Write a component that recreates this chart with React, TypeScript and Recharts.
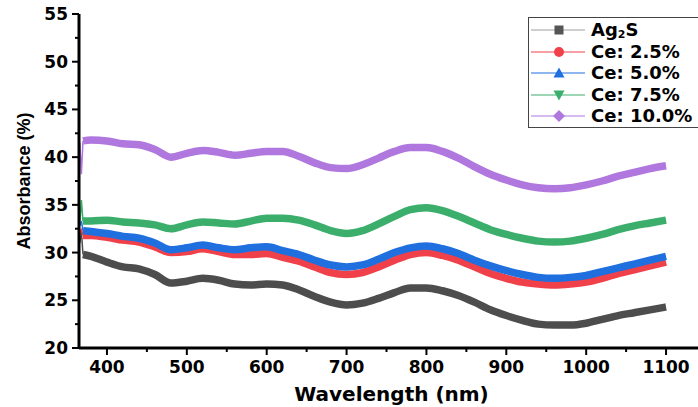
import { Line, LineChart, XAxis, YAxis } from "recharts";

// wavelengths (nm) of the sampled points
const wavelengths = [
  366, 368, 370, 380, 400, 420, 440, 460, 480, 500, 520, 540, 560, 580, 600, 620, 640, 660, 680, 700,
  720, 740, 760, 780, 800, 820, 840, 860, 880, 900, 920, 940, 960, 980, 1000, 1020, 1040, 1060, 1080, 1100,
];

// noisy start (366-370 nm), drawn thin
const ag2sSpike = [31.0, 32.2, 29.8];
const ce25Spike = [31.8, 32.5, 31.8];
const ce50Spike = [32.8, 33.3, 32.3];
const ce75Spike = [33.0, 35.5, 33.3];
const ce100Spike = [41.5, 38.2, 41.7];

// main curves from 370 nm on
const ag2s = [
  29.8, 29.6, 29.0, 28.5, 28.3, 27.7, 26.8, 27.0, 27.3, 27.1, 26.7, 26.6, 26.7, 26.6, 26.1, 25.4, 24.8, 24.5,
  24.7, 25.2, 25.8, 26.3, 26.3, 26.0, 25.5, 24.8, 24.0, 23.4, 22.9, 22.5, 22.4, 22.4, 22.6, 23.0, 23.4, 23.7, 24.0, 24.3,
];
const ce25 = [
  31.8, 31.8, 31.6, 31.3, 31.1, 30.6, 30.0, 30.1, 30.4, 30.1, 29.8, 29.8, 29.9, 29.5, 29.1, 28.5, 27.9, 27.7,
  27.9, 28.5, 29.2, 29.8, 30.0, 29.7, 29.2, 28.5, 27.8, 27.3, 26.9, 26.7, 26.6, 26.7, 26.9, 27.3, 27.8, 28.2, 28.6, 29.0,
];
const ce50 = [
  32.3, 32.2, 32.0, 31.7, 31.5, 31.0, 30.3, 30.5, 30.8, 30.5, 30.3, 30.5, 30.6, 30.2, 29.8, 29.2, 28.7, 28.5,
  28.7, 29.3, 30.0, 30.5, 30.7, 30.4, 29.9, 29.2, 28.6, 28.1, 27.7, 27.4, 27.3, 27.4, 27.6, 28.0, 28.4, 28.8, 29.2, 29.6,
];
const ce75 = [
  33.3, 33.3, 33.4, 33.2, 33.1, 32.9, 32.5, 32.9, 33.2, 33.1, 33.0, 33.3, 33.6, 33.6, 33.4, 32.9, 32.3, 32.0,
  32.3, 33.0, 33.8, 34.5, 34.7, 34.4, 33.8, 33.1, 32.4, 31.9, 31.5, 31.2, 31.1, 31.2, 31.5, 31.9, 32.4, 32.8, 33.1, 33.4,
];
const ce100 = [
  41.7, 41.8, 41.7, 41.4, 41.3, 40.8, 40.0, 40.4, 40.7, 40.5, 40.2, 40.4, 40.6, 40.6, 40.1, 39.4, 38.9, 38.8,
  39.2, 39.9, 40.6, 41.0, 41.0, 40.6, 39.9, 39.0, 38.2, 37.6, 37.1, 36.8, 36.7, 36.8, 37.1, 37.5, 38.0, 38.4, 38.8, 39.1,
];

const xMajorTicks = [400, 500, 600, 700, 800, 900, 1000, 1100];
const xMinorTicks = [450, 550, 650, 750, 850, 950, 1050];
const yMajorTicks = [20, 25, 30, 35, 40, 45, 50, 55];
const yMinorTicks = [22.5, 27.5, 32.5, 37.5, 42.5, 47.5, 52.5];

const series = [
  { key: "ag2s", name: "Ag2S", values: ag2s, spike: ag2sSpike, color: "#4d4d4d", legendLine: "#a0a0a0", marker: "square" },
  { key: "ce25", name: "Ce: 2.5%", values: ce25, spike: ce25Spike, color: "#f0404a", legendLine: "#f0404a", marker: "circle" },
  { key: "ce50", name: "Ce: 5.0%", values: ce50, spike: ce50Spike, color: "#1f6fdf", legendLine: "#1f6fdf", marker: "up" },
  { key: "ce75", name: "Ce: 7.5%", values: ce75, spike: ce75Spike, color: "#3aae6a", legendLine: "#3aae6a", marker: "down" },
  { key: "ce100", name: "Ce: 10.0%", values: ce100, spike: ce100Spike, color: "#b078de", legendLine: "#b078de", marker: "diamond" },
];

const nSpike = ag2sSpike.length;
const data = wavelengths.map((wl, i) => {
  const row: Record<string, number | null> = { wl };
  series.forEach((s) => {
    row[s.key + "Spike"] = i < nSpike ? s.spike[i] : null;
    row[s.key] = i >= nSpike - 1 ? s.values[i - (nSpike - 1)] : null;
  });
  return row;
});

const TICK_SIZE = 6;
const TICK_MARGIN = 4;
const tickFont = { fontFamily: "'DejaVu Sans', sans-serif", fontWeight: 700, fontSize: 17, fill: "#000" };

function XTick(props: any) {
  const { x, y, payload } = props;
  const major = xMajorTicks.includes(payload.value);
  const y0 = y - TICK_SIZE - TICK_MARGIN;
  return (
    <g>
      <line x1={x} x2={x} y1={y0} y2={y0 + (major ? 7 : 4)} stroke="#000" strokeWidth={2} />
      {major ? (
        <text x={x} y={y0 + 25} textAnchor="middle" {...tickFont}>
          {payload.value}
        </text>
      ) : null}
    </g>
  );
}

function YTick(props: any) {
  const { x, y, payload } = props;
  const major = yMajorTicks.includes(payload.value);
  const x0 = x + TICK_SIZE + TICK_MARGIN;
  return (
    <g>
      <line x1={x0} x2={x0 - (major ? 7 : 4)} y1={y} y2={y} stroke="#000" strokeWidth={2} />
      {major ? (
        <text x={x0 - 11} y={y + 6} textAnchor="end" {...tickFont}>
          {payload.value}
        </text>
      ) : null}
    </g>
  );
}

function Marker({ kind, color }: { kind: string; color: string }) {
  const c = 28;
  const m = 11;
  if (kind === "square") return <rect x={c - 4.5} y={m - 4.5} width={9} height={9} fill={color} />;
  if (kind === "circle") return <circle cx={c} cy={m} r={5} fill={color} />;
  if (kind === "up") return <polygon points={`${c - 5.5},${m + 4.5} ${c + 5.5},${m + 4.5} ${c},${m - 5.5}`} fill={color} />;
  if (kind === "down") return <polygon points={`${c - 5.5},${m - 4.5} ${c + 5.5},${m - 4.5} ${c},${m + 5.5}`} fill={color} />;
  return <polygon points={`${c - 6},${m} ${c},${m - 6} ${c + 6},${m} ${c},${m + 6}`} fill={color} />;
}

function ChartLegend() {
  return (
    <div
      style={{
        position: "absolute",
        left: 528,
        top: 17,
        width: 200,
        height: 111,
        border: "1.5px solid #444",
        background: "#fff",
        boxSizing: "border-box",
        paddingTop: 1,
      }}
    >
      {series.map((s) => (
        <div key={s.key} style={{ position: "relative", height: 21.6 }}>
          <svg width={60} height={22} style={{ position: "absolute", left: 2, top: 0 }}>
            <line x1={0} x2={54} y1={11} y2={11} stroke={s.legendLine} strokeWidth={1.2} />
            <Marker kind={s.marker} color={s.marker === "square" ? "#555" : s.color} />
          </svg>
          <div
            style={{
              position: "absolute",
              left: 62,
              top: 1,
              height: 20,
              lineHeight: "20px",
              fontFamily: "'DejaVu Sans', sans-serif",
              fontWeight: 700,
              fontSize: 18,
              color: "#000",
              whiteSpace: "nowrap",
            }}
          >
            {s.key === "ag2s" ? (
              <span>
                Ag<sub style={{ fontSize: 11, verticalAlign: "-2px", lineHeight: 0 }}>2</sub>S
              </span>
            ) : (
              s.name
            )}
          </div>
        </div>
      ))}
    </div>
  );
}

export default function App() {
  return (
    <div style={{ position: "absolute", left: 0, top: 0, width: 698, height: 407, background: "#fff", overflow: "hidden" }}>
      <LineChart width={698} height={407} data={data} margin={{ top: 14, right: 0, bottom: 0, left: 0 }}>
        <XAxis
          xAxisId="top"
          orientation="top"
          dataKey="wl"
          type="number"
          domain={[365, 1140]}
          allowDataOverflow
          height={0}
          tick={false}
          tickLine={false}
          axisLine={{ stroke: "#000", strokeWidth: 2 }}
        />
        <XAxis
          dataKey="wl"
          type="number"
          domain={[365, 1140]}
          allowDataOverflow
          ticks={[...xMajorTicks, ...xMinorTicks].sort((a, b) => a - b)}
          interval={0}
          height={59}
          tickSize={TICK_SIZE}
          tickMargin={TICK_MARGIN}
          tickLine={false}
          tick={<XTick />}
          axisLine={{ stroke: "#000", strokeWidth: 3 }}
          label={{
            value: "Wavelength (nm)",
            position: "insideBottom",
            offset: 6,
            dx: 3,
            style: { fontFamily: "'DejaVu Sans', sans-serif", fontWeight: 700, fontSize: 20, fill: "#000" },
          }}
        />
        <YAxis
          type="number"
          domain={[20, 55]}
          allowDataOverflow
          ticks={[...yMajorTicks, ...yMinorTicks].sort((a, b) => a - b)}
          interval={0}
          width={79}
          tickSize={TICK_SIZE}
          tickMargin={TICK_MARGIN}
          tickLine={false}
          tick={<YTick />}
          axisLine={{ stroke: "#000", strokeWidth: 3 }}
          label={{
            value: "Absorbance (%)",
            angle: -90,
            position: "center",
            dx: -16,
            style: { fontFamily: "'Liberation Sans', Arial, sans-serif", fontWeight: 700, fontSize: 18, fill: "#000" },
          }}
        />
        {series.map((s) => (
          <Line
            key={s.key + "Spike"}
            dataKey={s.key + "Spike"}
            stroke={s.color}
            strokeWidth={1.5}
            dot={false}
            isAnimationActive={false}
            connectNulls={false}
          />
        ))}
        {series.map((s) => (
          <Line
            key={s.key}
            dataKey={s.key}
            name={s.name}
            type="monotone"
            stroke={s.color}
            strokeWidth={7.5}
            dot={false}
            isAnimationActive={false}
            connectNulls={false}
          />
        ))}
      </LineChart>
      <ChartLegend />
    </div>
  );
}
